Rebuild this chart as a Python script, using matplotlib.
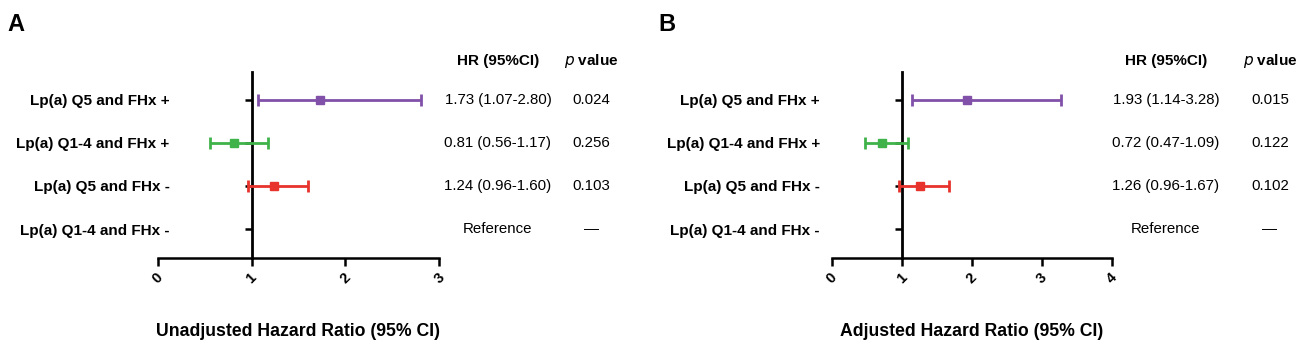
import numpy as np
import matplotlib
matplotlib.use("Agg")
import matplotlib.pyplot as plt
from matplotlib.transforms import blended_transform_factory

plt.rcParams['font.family'] = ['Liberation Sans', 'DejaVu Sans']

# data
groups = ['Lp(a) Q5 and FHx +', 'Lp(a) Q1-4 and FHx +',
          'Lp(a) Q5 and FHx -', 'Lp(a) Q1-4 and FHx -']
colors = ['#8150a8', '#3fb34a', '#e8322c']

hr_a = [1.73, 0.81, 1.24]
lo_a = [1.07, 0.56, 0.96]
hi_a = [2.80, 1.17, 1.60]
p_a = ['0.024', '0.256', '0.103']

hr_b = [1.93, 0.72, 1.26]
lo_b = [1.14, 0.47, 0.96]
hi_b = [3.28, 1.09, 1.67]
p_b = ['0.015', '0.122', '0.102']

W, H = 1307, 355
fig = plt.figure(figsize=(W / 100, H / 100), dpi=100)

def panel(left_px, right_px, xmax, hr, lo, hi, pv, xlabel, letter, letter_x,
          col_hr, col_p):
    ax = fig.add_axes([left_px / W, (H - 257.7) / H,
                       (right_px - left_px) / W, 185.7 / H])
    ypos = np.array([4, 3, 2, 1])
    for i in range(3):
        y = ypos[i]
        ax.errorbar(hr[i], y, xerr=[[hr[i] - lo[i]], [hi[i] - hr[i]]],
                    fmt='s', color=colors[i], ms=6, lw=2, capsize=4,
                    capthick=2, zorder=3)
    ax.set_xlim(0, xmax)
    ax.set_ylim(0.333, 4.65)
    ax.spines['top'].set_visible(False)
    ax.spines['right'].set_visible(False)
    ax.spines['left'].set_position(('data', 1))
    ax.spines['left'].set_linewidth(2)
    ax.spines['bottom'].set_linewidth(1.8)
    ax.spines['left'].set_zorder(2)
    ax.set_xticks(range(xmax + 1))
    ax.set_xticklabels([str(i) for i in range(xmax + 1)], rotation=45,
                       fontsize=10.5, fontweight='bold')
    ax.tick_params(axis='x', length=6, width=1.8, pad=3)
    ax.set_yticks(ypos)
    ax.set_yticklabels(groups, fontsize=11, fontweight='bold')
    ax.tick_params(axis='y', length=5, width=1.8, pad=54)

    tr = blended_transform_factory(fig.transFigure, ax.transData)
    ax.text(col_hr / W, 4.9, 'HR (95%CI)', transform=tr, ha='center',
            va='center', fontsize=11, fontweight='bold', clip_on=False)
    ax.text(col_p / W, 4.9, r'$\bf{\it{p}}$ value', transform=tr,
            ha='center', va='center', fontsize=11, fontweight='bold',
            clip_on=False)
    for i in range(3):
        ax.text(col_hr / W, ypos[i],
                f'{hr[i]:.2f} ({lo[i]:.2f}-{hi[i]:.2f})', transform=tr,
                ha='center', va='center', fontsize=10.8, clip_on=False)
        ax.text(col_p / W, ypos[i], pv[i], transform=tr, ha='center',
                va='center', fontsize=10.8, clip_on=False)
    ax.text(col_hr / W, 1, 'Reference', transform=tr, ha='center',
            va='center', fontsize=10.8, clip_on=False)
    ax.text(col_p / W, 1, '\u2014', transform=tr, ha='center',
            va='center', fontsize=10.8, clip_on=False)

    fig.text((left_px + right_px) / 2 / W, (H - 331) / H, xlabel,
             ha='center', va='center', fontsize=12.7, fontweight='bold')
    fig.text(letter_x / W, (H - 13) / H, letter, ha='left', va='top',
             fontsize=17, fontweight='bold')
    return ax

panel(157.7, 439.3, 3, hr_a, lo_a, hi_a, p_a,
      'Unadjusted Hazard Ratio (95% CI)', 'A', 7, 498, 591)
panel(831.7, 1111.7, 4, hr_b, lo_b, hi_b, p_b,
      'Adjusted Hazard Ratio (95% CI)', 'B', 658, 1166, 1270)

fig.savefig('out.png', dpi=100)
